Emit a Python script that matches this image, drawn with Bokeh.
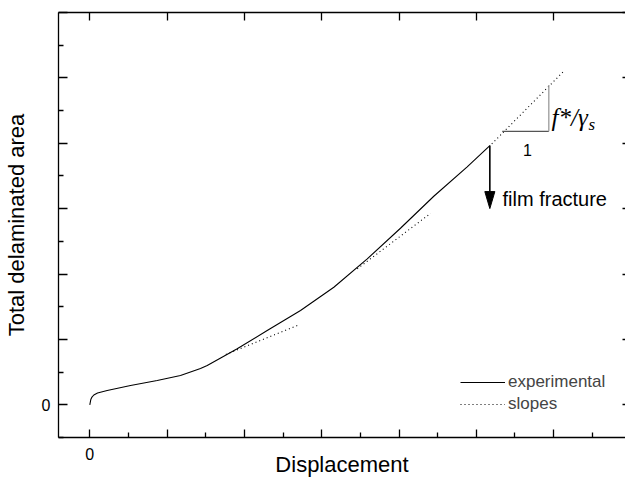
from bokeh.plotting import figure
from bokeh.models import LinearAxis, FixedTicker, Range1d, Label, Legend, LegendItem
from bokeh.embed import file_html
from bokeh.resources import INLINE

# ---- data ----
exp_x = [0.0, 0.013, 0.028, 0.052, 0.100, 0.225, 0.527, 0.872, 1.173, 1.432, 1.519,
         1.907, 2.295, 2.726, 3.157, 3.589, 4.019, 4.450, 4.882, 5.175]
exp_y = [0.0, 0.081, 0.119, 0.150, 0.180, 0.219, 0.295, 0.372, 0.448, 0.555, 0.601,
         0.856, 1.136, 1.442, 1.798, 2.232, 2.700, 3.190, 3.640, 3.965]

slope_xs = [[1.76, 2.70], [3.46, 4.41], [5.20, 6.13]]
slope_ys = [[0.77, 1.22], [2.08, 2.93], [3.99, 5.10]]

# slope triangle (run, rise) on the last slope
tri_x = [5.335, 5.938]
tri_y = [4.183, 4.893]

x_major = [0, 1, 2, 3, 4, 5, 6]
x_minor = [0.5, 1.5, 2.5, 3.5, 4.5, 5.5, 6.5]
y_major = [0, 1, 2, 3, 4, 5, 6]
y_minor = [-0.5, 0.5, 1.5, 2.5, 3.5, 4.5, 5.5]
x_labels = {t: ("0" if t == 0 else "") for t in x_major}
y_labels = {t: ("0" if t == 0 else "") for t in y_major}

SANS = "Liberation Sans"
SERIF = "Liberation Serif"

p = figure(width=625, height=479,
           x_range=Range1d(-0.405, 6.93), y_range=Range1d(-0.5, 6.0),
           x_axis_type=None, y_axis_type=None,
           output_backend="svg", toolbar_location=None,
           min_border=0, min_border_left=58, min_border_top=12,
           min_border_bottom=42, min_border_right=0)
p.outline_line_color = None
p.background_fill_color = "white"

AXW = 1.3

def style(ax):
    ax.axis_line_width = AXW
    ax.major_tick_line_width = AXW
    ax.minor_tick_line_width = AXW
    ax.major_tick_out = 0
    ax.minor_tick_out = 0
    ax.major_label_text_font = SANS
    ax.major_label_text_font_size = "16px"
    ax.major_label_text_color = "black"
    ax.axis_line_color = "black"
    ax.major_tick_line_color = "black"
    ax.minor_tick_line_color = "black"
    ax.axis_label_text_color = "black"
    ax.axis_label_text_font = SANS
    ax.axis_label_text_font_size = "22px"
    ax.axis_label_text_font_style = "normal"

bottom = LinearAxis(ticker=FixedTicker(ticks=x_major, minor_ticks=x_minor),
                    major_label_overrides=x_labels, axis_label="Displacement")
style(bottom)
bottom.major_tick_in = 8
bottom.minor_tick_in = 5
bottom.major_label_standoff = 10
bottom.axis_label_standoff = -11
p.add_layout(bottom, "below")

left = LinearAxis(ticker=FixedTicker(ticks=y_major, minor_ticks=y_minor),
                  major_label_overrides=y_labels,
                  axis_label="Total delaminated area")
style(left)
left.major_tick_in = 9
left.minor_tick_in = 5
left.major_label_standoff = 8
left.axis_label_standoff = 10
p.add_layout(left, "left")

top = LinearAxis(ticker=FixedTicker(ticks=x_major, minor_ticks=[]),
                 major_label_overrides={t: "" for t in x_major})
style(top)
top.major_tick_in = 8
top.minor_tick_in = 0
top.major_label_standoff = 0
top.major_label_text_font_size = "0px"
p.add_layout(top, "above")

right = LinearAxis(ticker=FixedTicker(ticks=y_major, minor_ticks=[]),
                   major_label_overrides={t: "" for t in y_major})
style(right)
right.axis_line_color = None
right.major_tick_in = 3
right.minor_tick_in = 0
right.major_label_standoff = 0
right.major_label_text_font_size = "0px"
p.add_layout(right, "right")

# ---- data lines ----
r_exp = p.line(exp_x, exp_y, line_color="black", line_width=1.1)
r_slope = p.multi_line(slope_xs, slope_ys, line_color="black",
                       line_width=1.1, line_dash="1 3")

# slope triangle
p.line([tri_x[0], tri_x[1]], [tri_y[0], tri_y[0]], line_color="#555555", line_width=1.3)
p.line([tri_x[1], tri_x[1]], [tri_y[0], tri_y[1]], line_color="#9a9a9a", line_width=1.3)

# film fracture arrow from the last experimental point
fx, fy = exp_x[-1], exp_y[-1]
tip_y = 3.001
head_y = 3.261
half_w = 0.065
p.line([fx, fx], [fy, head_y], line_color="black", line_width=1.6)
p.patch([fx - half_w, fx + half_w, fx], [head_y, head_y, tip_y],
        fill_color="black", line_color="black", line_width=1)

# ---- texts ----
p.add_layout(Label(x=5.339, y=3.154, text="film fracture", text_font=SANS,
                   text_font_size="20px", text_baseline="middle", text_align="left",
                   text_color="black"))
p.add_layout(Label(x=5.662, y=3.90, text="1", text_font=SANS,
                   text_font_size="16px", text_baseline="alphabetic", text_align="center",
                   text_color="black"))
p.add_layout(Label(x=5.973, y=4.393, text="f*/γ", text_font=SERIF,
                   text_font_size="25px", text_font_style="italic",
                   text_baseline="alphabetic", text_align="left", text_color="black"))
p.add_layout(Label(x=6.451, y=4.286, text="s", text_font=SERIF,
                   text_font_size="17px", text_font_style="italic",
                   text_baseline="alphabetic", text_align="left", text_color="black"))

legend = Legend(items=[LegendItem(label="experimental", renderers=[r_exp]),
                       LegendItem(label="slopes", renderers=[r_slope])],
                location=(402, 23))
legend.border_line_color = None
legend.background_fill_alpha = 0
legend.label_text_font = SANS
legend.label_text_font_size = "17px"
legend.glyph_width = 45
legend.glyph_height = 20
legend.label_standoff = 3
legend.spacing = 2
legend.padding = 0
legend.margin = 0
legend.label_height = 20
p.add_layout(legend)

open("out.html", "w").write(file_html(p, INLINE))
